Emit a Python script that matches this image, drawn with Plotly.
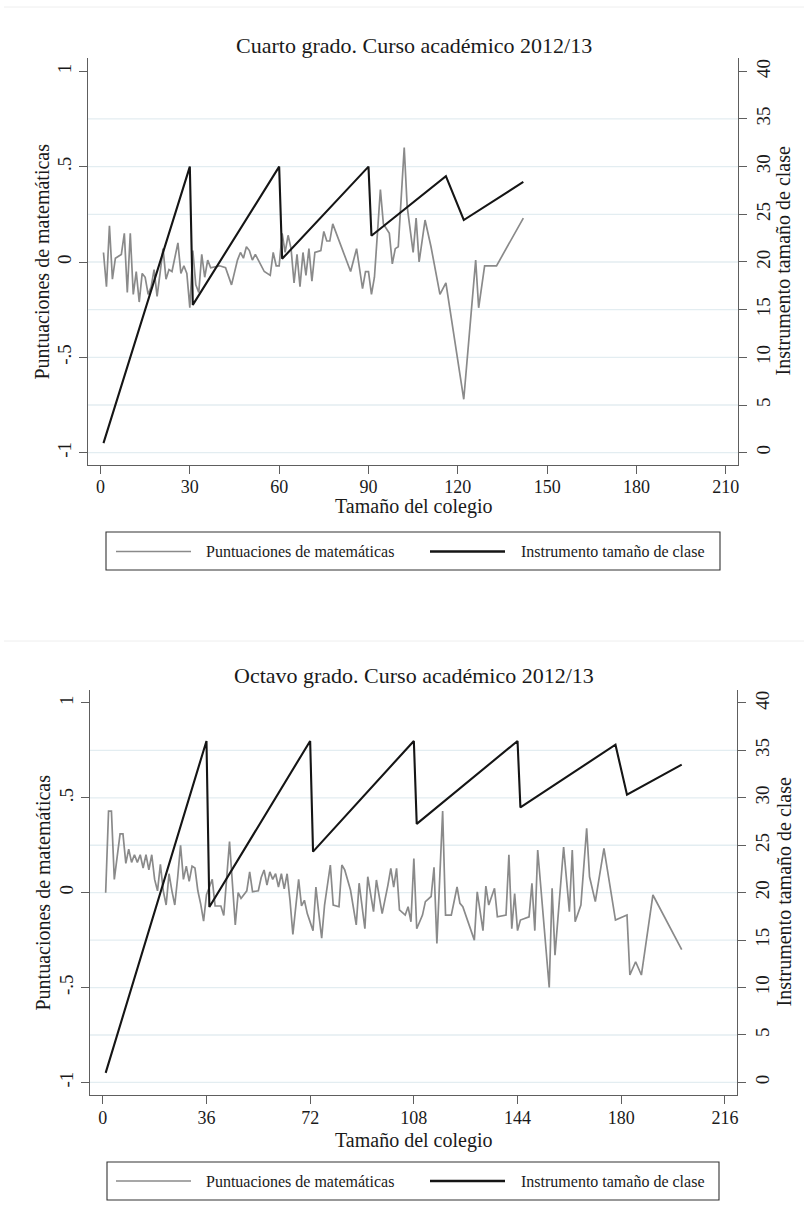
import plotly.graph_objects as go

# ---------------- DATA ----------------
# Cuarto grado (4th grade)
g4_size = [1, 2, 3, 4, 5, 6, 7, 8, 9, 10, 11, 12, 13, 14, 15, 16, 17, 18, 19, 20,
           21, 22, 23, 24, 25, 26, 27, 28, 29, 30, 31, 32, 33, 34, 35, 36, 37, 40, 42, 44,
           46, 47, 48, 49, 50, 51, 52, 54, 55, 57, 58, 59, 60, 61, 62, 63, 64, 65, 66, 67,
           68, 69, 70, 71, 72, 74, 75, 76, 77, 78, 80, 82, 84, 86, 88, 89, 90, 91, 92, 94,
           95, 97, 98, 99, 100, 102, 103, 105, 106, 107, 109, 111, 114, 116, 122, 126, 127, 129, 133, 142]
g4_math = [0.05, -0.13, 0.19, -0.09, 0.02, 0.03, 0.04, 0.15, -0.16, 0.15, -0.17, -0.05, -0.21, -0.06, -0.08, -0.17, -0.13, -0.04, -0.18, -0.06,
           0.07, -0.09, -0.04, -0.05, 0.02, 0.10, -0.06, -0.02, -0.06, -0.24, 0.06, -0.12, -0.16, 0.04, -0.08, 0.01, -0.03, -0.02, -0.03, -0.12,
           0.01, 0.05, 0.02, 0.08, 0.06, 0.01, 0.04, -0.02, -0.05, -0.07, 0.05, -0.02, -0.02, 0.15, 0.05, 0.14, 0.07, -0.11, 0.04, -0.13,
           0.05, -0.07, 0.07, -0.10, 0.05, 0.06, 0.16, 0.11, 0.11, 0.20, 0.12, 0.03, -0.05, 0.07, -0.14, -0.05, -0.05, -0.17, -0.08, 0.38,
           0.20, 0.15, -0.01, 0.07, 0.08, 0.60, 0.29, 0.05, 0.23, 0.00, 0.22, 0.08, -0.17, -0.11, -0.72, 0.01, -0.24, -0.02, -0.02, 0.23]
g4_inst_size = [1, 30, 31, 60, 61, 90, 91, 116, 122, 142]
g4_inst = [1, 30, 15.5, 30, 20.33, 30, 22.75, 29, 24.4, 28.4]

# Octavo grado (8th grade)
g8_size = [1, 2, 3, 4, 6, 7, 8, 9, 10, 11, 12, 13, 14, 15, 16, 17, 18, 19, 20, 21,
           22, 23, 24, 25, 26, 27, 28, 29, 30, 31, 32, 33, 34, 35, 36, 38, 39, 41, 42, 44,
           45, 46, 47, 48, 50, 51, 52, 54, 55, 56, 57, 58, 59, 60, 61, 62, 63, 64, 65, 66,
           68, 69, 70, 71, 73, 74, 75, 76, 77, 79, 80, 82, 83, 84, 86, 88, 89, 91, 92, 94,
           95, 97, 99, 100, 101, 102, 103, 105, 106, 107, 108, 109, 111, 112, 114, 115, 116, 118, 119, 121,
           123, 124, 125, 127, 129, 130, 132, 133, 134, 136, 137, 140, 141, 142, 143, 144, 145, 148, 149, 150,
           151, 155, 156, 157, 160, 162, 163, 164, 166, 168, 169, 171, 174, 178, 182, 183, 185, 187, 191, 201]
g8_math = [0.00, 0.43, 0.43, 0.07, 0.31, 0.31, 0.155, 0.23, 0.16, 0.20, 0.16, 0.20, 0.13, 0.20, 0.12, 0.20, 0.07, 0.01, 0.15, 0.01,
           -0.065, 0.10, 0.01, -0.065, 0.08, 0.25, 0.07, 0.14, 0.06, 0.14, 0.13, 0.01, -0.06, -0.15, -0.01, 0.07, -0.07, -0.07, -0.12, 0.27,
           0.05, -0.17, 0.00, -0.03, 0.01, 0.11, 0.005, 0.01, 0.08, 0.12, 0.04, 0.11, 0.07, 0.10, 0.03, 0.10, 0.02, 0.10, -0.04, -0.22,
           0.07, -0.07, -0.04, -0.11, -0.20, 0.03, -0.11, -0.24, -0.065, 0.146, -0.065, -0.074, 0.146, 0.12, 0.014, -0.17, 0.05, -0.19, 0.084, -0.10,
           0.067, -0.11, 0.04, 0.128, 0.03, 0.128, -0.09, -0.118, -0.074, -0.153, 0.18, -0.19, -0.118, -0.047, -0.02, 0.134, -0.267, 0.43, -0.118, -0.118,
           0.03, -0.056, -0.074, -0.16, -0.25, 0.005, -0.20, 0.035, -0.065, 0.023, -0.127, -0.118, 0.20, -0.19, -0.004, -0.20, -0.144, -0.127, 0.05, -0.20,
           0.225, -0.50, 0.023, -0.33, 0.24, -0.10, 0.225, -0.153, -0.065, 0.34, 0.084, -0.047, 0.234, -0.144, -0.118, -0.434, -0.364, -0.434, -0.012, -0.30]
g8_inst_size = [1, 36, 37, 72, 73, 108, 109, 144, 145, 178, 182, 201]
g8_inst = [1, 36, 18.5, 36, 24.33, 36, 27.25, 36, 29, 35.6, 30.33, 33.5]

titles = ["Cuarto grado. Curso académico 2012/13", "Octavo grado. Curso académico 2012/13"]
x_title = "Tamaño del colegio"
y_left_title = "Puntuaciones de matemáticas"
y_right_title = "Instrumento tamaño de clase"
left_ticks = [-1, -0.5, 0, 0.5, 1]
left_ticktext = ["-1", "-.5", "0", ".5", "1"]
right_ticks = [0, 5, 10, 15, 20, 25, 30, 35, 40]
grid_vals = [0, 5, 10, 15, 20, 25, 30, 35]
x_ticks_g4 = [0, 30, 60, 90, 120, 150, 180, 210]
x_ticks_g8 = [0, 36, 72, 108, 144, 180, 216]

# ---------------- STYLE ----------------
W, H = 804, 1211
FONT = "Liberation Serif, Times New Roman, serif"
GRAY = "#8a8a8a"
BLACK = "#151515"
AXIS = "#5e5e5e"
GRID = "#e3edf1"
TXT = "#1a1a1a"


def fx(p):
    return p / W


def fy(p):
    return 1 - p / H


fig = go.Figure()
fig.add_trace(go.Scatter(x=g4_size, y=g4_math, xaxis="x", yaxis="y", mode="lines",
                         line=dict(color=GRAY, width=1.7), name="Puntuaciones de matemáticas", showlegend=False))
fig.add_trace(go.Scatter(x=g4_inst_size, y=g4_inst, xaxis="x", yaxis="y2", mode="lines",
                         line=dict(color=BLACK, width=2.1), name="Instrumento tamaño de clase", showlegend=False))
fig.add_trace(go.Scatter(x=g8_size, y=g8_math, xaxis="x2", yaxis="y3", mode="lines",
                         line=dict(color=GRAY, width=1.7), name="Puntuaciones de matemáticas", showlegend=False))
fig.add_trace(go.Scatter(x=g8_inst_size, y=g8_inst, xaxis="x2", yaxis="y4", mode="lines",
                         line=dict(color=BLACK, width=2.1), name="Instrumento tamaño de clase", showlegend=False))

tickfont = dict(family=FONT, size=19, color=TXT)
xtickfont = dict(family=FONT, size=18, color=TXT)
titlefont = dict(family=FONT, size=20, color=TXT)
common = dict(showline=True, linecolor=AXIS, linewidth=1.3, ticks="outside", ticklen=8, tickwidth=1.3,
              tickcolor=AXIS, showgrid=False, zeroline=False, automargin=False)

top_dom = [fy(465), fy(58)]
bot_dom = [fy(1095), fy(690)]
xdom_top = [fx(88), fx(738)]
xdom_bot = [fx(90), fx(737.3)]

fig.update_layout(
    width=W, height=H, margin=dict(l=0, r=0, t=0, b=0),
    paper_bgcolor="white", plot_bgcolor="white", showlegend=False,
    xaxis=dict(domain=xdom_top, anchor="y", range=[-4.2, 214.1], tickvals=x_ticks_g4,
               tickfont=xtickfont, ticklabelstandoff=-3, **common),
    yaxis=dict(domain=top_dom, anchor="x", range=[-1.0645, 1.0697], tickvals=left_ticks, ticktext=left_ticktext,
               tickangle=-90, tickfont=tickfont, **common),
    yaxis2=dict(overlaying="y", side="right", anchor="x", range=[-1.29, 41.39], tickvals=right_ticks,
                tickangle=-90, tickfont=tickfont, **common),
    xaxis2=dict(domain=xdom_bot, anchor="y3", range=[-4.44, 220.3], tickvals=x_ticks_g8,
                tickfont=xtickfont, ticklabelstandoff=-2, **common),
    yaxis3=dict(domain=bot_dom, anchor="x2", range=[-1.0664, 1.0685], tickvals=left_ticks, ticktext=left_ticktext,
                tickangle=-90, tickfont=tickfont, **common),
    yaxis4=dict(overlaying="y3", side="right", anchor="x2", range=[-1.328, 41.37], tickvals=right_ticks,
                tickangle=-90, tickfont=tickfont, **common),
)

shapes = []
# horizontal grid lines (from the right-hand axis ticks)
for yref, xref in (("y2", "x domain"), ("y4", "x2 domain")):
    for v in grid_vals:
        shapes.append(dict(type="line", xref=xref, yref=yref, x0=0, x1=1, y0=v, y1=v,
                           line=dict(color=GRID, width=1.3), layer="below"))

# faint outer separators of the two graphs
for yy in (7, 641):
    shapes.append(dict(type="line", xref="paper", yref="paper", x0=fx(4), x1=1, y0=fy(yy), y1=fy(yy),
                       line=dict(color="#eeeeee", width=1)))

annotations = []
# panel titles
for t, yy in zip(titles, (45, 675)):
    annotations.append(dict(text=t, xref="paper", yref="paper", x=fx(414), y=fy(yy), showarrow=False,
                            xanchor="center", yanchor="middle", font=dict(family=FONT, size=22, color=TXT)))

# axis titles
for xt_y, yc in ((507, 261.5), (1140, 892.5)):
    annotations.append(dict(text=x_title, xref="paper", yref="paper", x=fx(413), y=fy(xt_y), showarrow=False,
                            xanchor="center", yanchor="middle", font=titlefont))
    annotations.append(dict(text=y_left_title, xref="paper", yref="paper", x=fx(42), y=fy(yc), showarrow=False,
                            xanchor="center", yanchor="middle", textangle=-90, font=titlefont))
    annotations.append(dict(text=y_right_title, xref="paper", yref="paper", x=fx(783), y=fy(yc), showarrow=False,
                            xanchor="center", yanchor="middle", textangle=-90, font=titlefont))

# legends (drawn boxes)
leg_names = ["Puntuaciones de matemáticas", "Instrumento tamaño de clase"]
leg_colors = [GRAY, BLACK]
leg_widths = [1.7, 2.3]
for (bx0, bx1, by0, by1, ly) in ((106, 720, 532, 570, 551.5), (107, 719, 1162, 1200, 1181)):
    shapes.append(dict(type="rect", xref="paper", yref="paper", x0=fx(bx0), x1=fx(bx1), y0=fy(by1), y1=fy(by0),
                       line=dict(color="#333333", width=1.1), fillcolor="white"))
    for (lx0, lx1, tx), name, col, lw in zip(((116, 191, 204), (430, 505, 519)), leg_names, leg_colors, leg_widths):
        shapes.append(dict(type="line", xref="paper", yref="paper", x0=fx(lx0), x1=fx(lx1), y0=fy(ly), y1=fy(ly),
                           line=dict(color=col, width=lw)))
        annotations.append(dict(text=name, xref="paper", yref="paper", x=fx(tx), y=fy(ly), showarrow=False,
                                xanchor="left", yanchor="middle", font=dict(family=FONT, size=16, color=TXT)))

fig.update_layout(shapes=shapes, annotations=annotations)
fig.write_html("out.html", config={"displayModeBar": False},
               post_script="document.body.style.margin='0px';document.body.style.overflow='hidden';")
